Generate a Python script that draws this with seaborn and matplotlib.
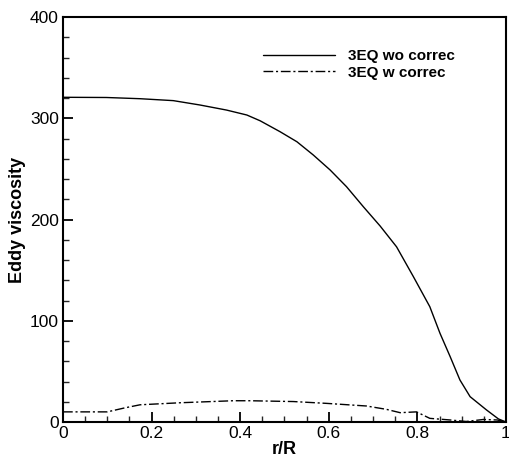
import matplotlib
matplotlib.use("Agg")
import matplotlib.pyplot as plt
import seaborn as sns
import pandas as pd
from matplotlib.ticker import MultipleLocator

r_wo = [0.0, 0.098, 0.174, 0.249, 0.309, 0.369, 0.415, 0.445, 0.490, 0.528, 0.565, 0.603,
        0.640, 0.678, 0.716, 0.753, 0.791, 0.828, 0.851, 0.874, 0.896, 0.919, 0.956, 0.983, 1.0]
v_wo = [320.7, 320.5, 319.3, 317.4, 313.1, 308.1, 303.2, 297.5, 286.7, 276.8, 263.7, 248.9,
        232.4, 212.6, 193.5, 173, 143.5, 113.9, 87.6, 64.5, 41.5, 25, 11.9, 3, 0]

r_w = [0.0, 0.1, 0.14, 0.174, 0.264, 0.384, 0.422, 0.52, 0.595, 0.685, 0.73, 0.761, 0.798,
       0.828, 0.874, 0.91, 0.949, 0.98, 1.0]
v_w = [10, 10, 14, 17, 19, 21, 21, 20.2, 18.4, 15.8, 12.5, 9.2, 10,
       3.6, 2, 0.5, 2.5, 2, 0]

labels = ["3EQ wo correc", "3EQ w correc"]
x_ticks = [0, 0.2, 0.4, 0.6, 0.8, 1]
x_tick_labels = ["0", "0.2", "0.4", "0.6", "0.8", "1"]
y_ticks = [0, 100, 200, 300, 400]

df = pd.concat([
    pd.DataFrame({"r": r_wo, "v": v_wo, "s": labels[0]}),
    pd.DataFrame({"r": r_w, "v": v_w, "s": labels[1]}),
])

sns.set_style("ticks")
plt.rcParams["font.family"] = ["Liberation Sans", "DejaVu Sans"]
plt.rcParams["text.color"] = "black"
plt.rcParams["axes.labelcolor"] = "black"

fig = plt.figure(figsize=(5.10, 4.59), dpi=100)
ax = fig.add_axes([63/510, 1-422/459, 443/510, 405/459])

sns.lineplot(data=df, x="r", y="v", hue="s", style="s",
             palette=["black", "black"],
             dashes={labels[0]: "", labels[1]: (7, 2, 1.5, 2)},
             linewidth=1.0, ax=ax, sort=False, estimator=None)

ax.set_xlim(0, 1)
ax.set_ylim(0, 400)
ax.set_xticks(x_ticks)
ax.set_xticklabels(x_tick_labels)
ax.set_yticks(y_ticks)
ax.xaxis.set_minor_locator(MultipleLocator(0.05))
ax.yaxis.set_minor_locator(MultipleLocator(20))
ax.tick_params(which="major", direction="in", length=7.5, width=1.3, labelsize=12.5,
               colors="black", pad=3)
ax.tick_params(which="minor", direction="in", length=4.3, width=1.0)
ax.tick_params(top=False, right=False, which="both")
for sp in ax.spines.values():
    sp.set_linewidth(1.5)
    sp.set_color("black")
    sp.set_visible(True)

ax.set_xlabel("r/R", fontsize=13, fontweight="bold", labelpad=0)
ax.set_ylabel("Eddy viscosity", fontsize=13, fontweight="bold", labelpad=3)

ax.legend(title=None, loc="upper left", bbox_to_anchor=(0.451, 0.92),
          frameon=False, borderpad=0, borderaxespad=0, handlelength=4.7,
          handletextpad=0.9, labelspacing=0.15,
          prop={"weight": "bold", "size": 11})

fig.savefig("out.png", dpi=100)
